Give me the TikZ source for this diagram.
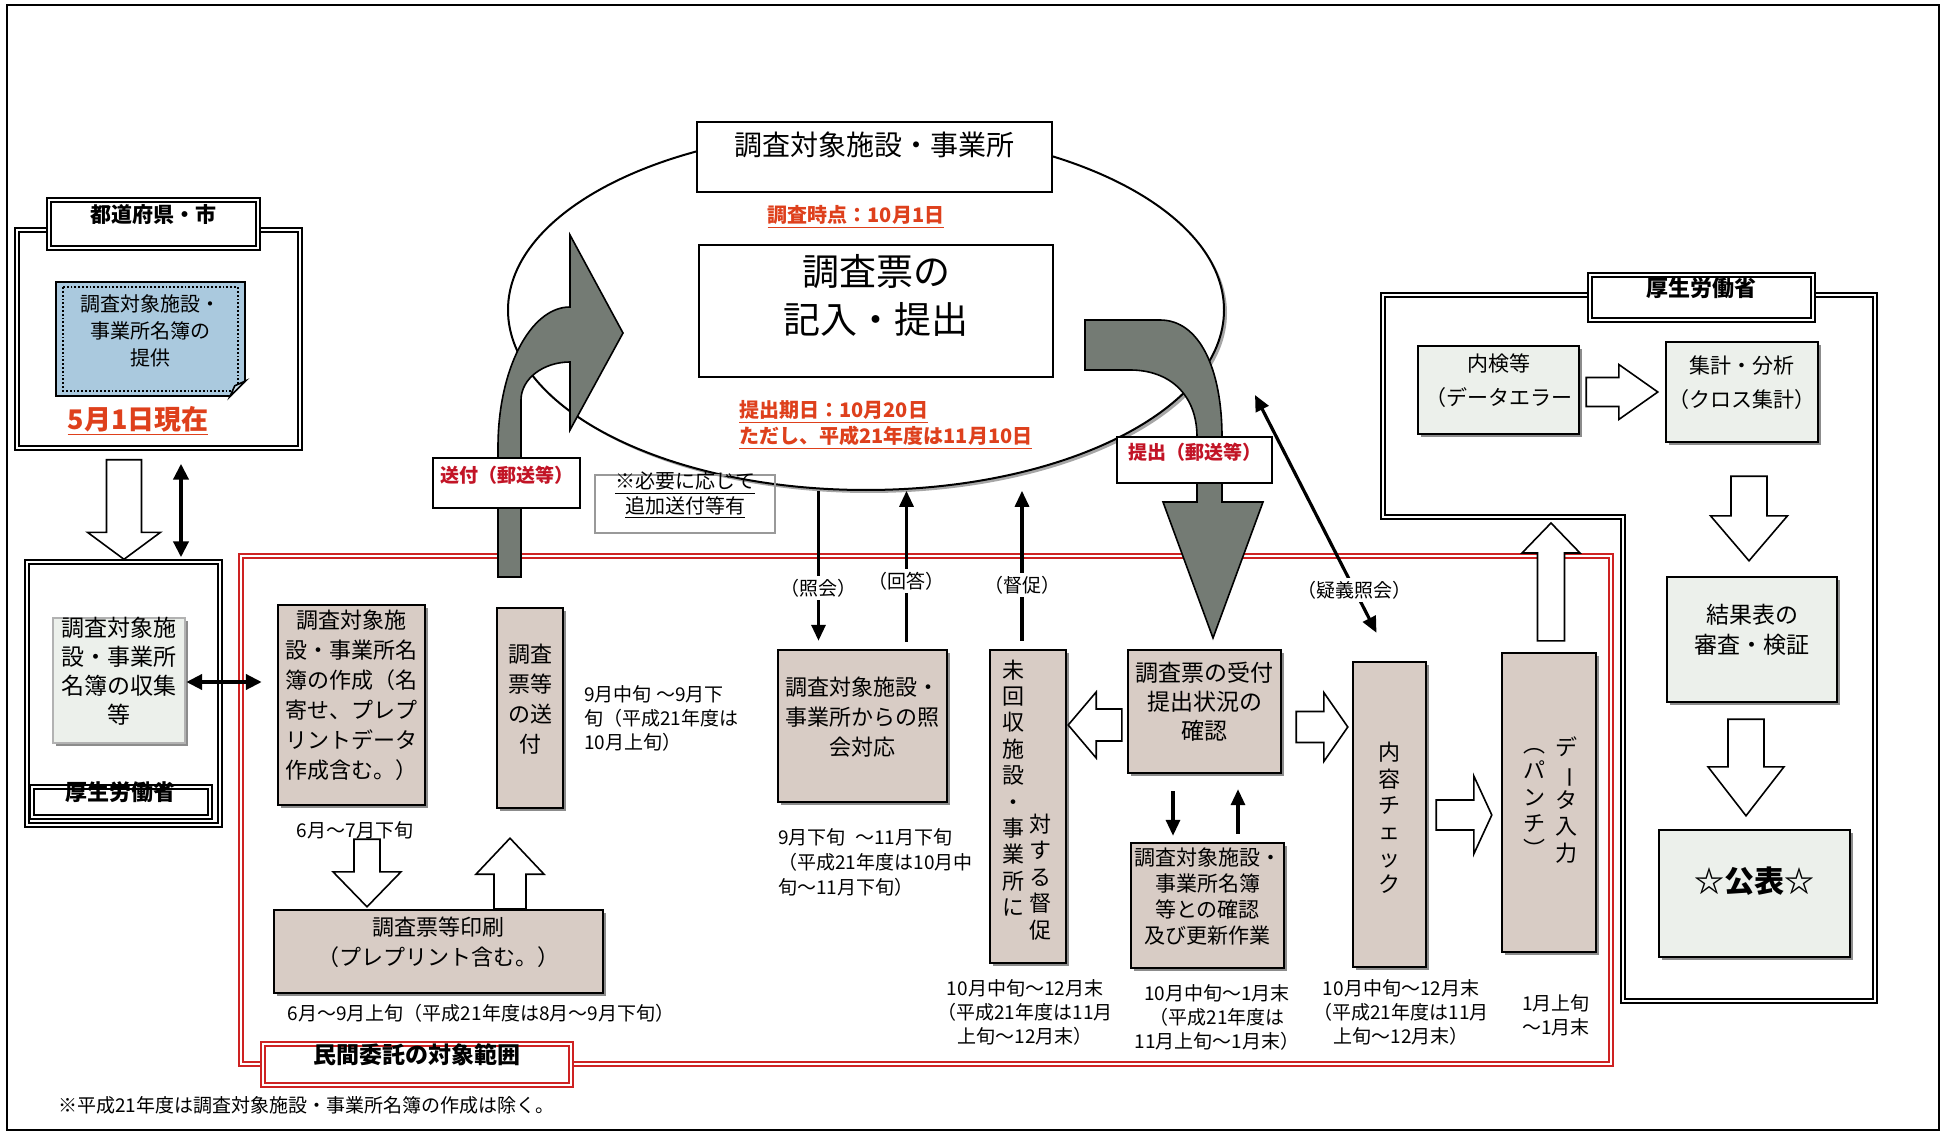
\documentclass[tikz,border=0pt]{standalone}
\usepackage{fontspec}
\usepackage{graphicx}
\setmainfont{Noto Sans CJK JP}
\usetikzlibrary{arrows.meta,calc,fit,shapes.geometric,shadows}

\definecolor{procfill}{RGB}{216,204,197}
\definecolor{mhlwfill}{RGB}{236,240,235}
\definecolor{notefill}{RGB}{170,201,222}
\definecolor{frred}{RGB}{206,34,34}
\definecolor{txtred}{RGB}{222,64,28}
\definecolor{lblred}{RGB}{194,20,38}
\definecolor{arrowgray}{RGB}{116,123,116}

\tikzset{
  dframe/.style={draw, double, double distance=1.4pt, line width=0.7pt, inner sep=0pt},
  redframe/.style={draw=frred, double, double distance=1.2pt, line width=0.8pt, inner sep=0pt},
  tabbox/.style={dframe, fill=white, font=\bfseries\fontsize{11}{13}\selectfont},
  procbox/.style={draw, line width=1.2pt, fill=procfill, inner sep=0pt, align=center,
    drop shadow={shadow xshift=1.6pt, shadow yshift=-1.6pt, fill=black, opacity=0.45},
    font=\fontsize{11}{15}\selectfont},
  mhlwbox/.style={procbox, fill=mhlwfill},
  vcol/.style={align=center, inner sep=0pt, font=\fontsize{11}{13.2}\selectfont},
  datetxt/.style={align=center, inner sep=0pt, font=\fontsize{9.5}{12}\selectfont},
  redtxt/.style={text=txtred, align=left, inner sep=0pt, font=\bfseries\fontsize{10}{13}\selectfont},
  postlbl/.style={draw, line width=0.8pt, fill=white, inner sep=0pt, text=lblred,
    font=\bfseries\fontsize{9.5}{12}\selectfont},
  lbl/.style={fill=white, inner sep=1.5pt, font=\fontsize{9.5}{12}\selectfont},
  hollow/.style args={#1/#2/#3}{draw, line width=0.8pt, fill=white, to path={
      ($(\tikztostart)!#1!-90:(\tikztotarget)$)
      -- ($($(\tikztotarget)!#3!(\tikztostart)$)!#1!-90:(\tikztotarget)$)
      -- ($($(\tikztotarget)!#3!(\tikztostart)$)!#2!-90:(\tikztotarget)$)
      -- (\tikztotarget)
      -- ($($(\tikztotarget)!#3!(\tikztostart)$)!#2!90:(\tikztotarget)$)
      -- ($($(\tikztotarget)!#3!(\tikztostart)$)!#1!90:(\tikztotarget)$)
      -- ($(\tikztostart)!#1!90:(\tikztotarget)$) -- cycle}},
  grayarrow/.style={fill=arrowgray, draw, line width=0.8pt},
  thinarrow/.style={line width=1.6pt, -{Triangle[length=8pt,width=7pt]}},
  dblarrow/.style={line width=2pt, {Triangle[length=8pt,width=7.5pt]}-{Triangle[length=8pt,width=7.5pt]}},
}

\begin{document}
\begin{tikzpicture}[x=0.5pt, y=-0.5pt]
\useasboundingbox (0,0) rectangle (1945,1134);
\draw[line width=1.2pt] (7,5) rectangle (1939,1130);

% survey targets
\node[ellipse, draw, line width=1pt, fill=white, minimum width=358pt, minimum height=180pt,
  drop shadow={shadow xshift=1.5pt, shadow yshift=-1.5pt, fill=black, opacity=0.35}] (ell) at (866,310) {};
\node[draw, line width=1.4pt, fill=white, inner sep=0pt, fit={(697,122) (1052,192)},
  font=\fontsize{14}{17}\selectfont] (target) {調査対象施設・事業所};
\node[redtxt] (asofday) at (856,217) {\underline{調査時点：10月1日}};
\node[draw, line width=1.4pt, fill=white, inner sep=0pt, align=center, fit={(699,245) (1053,377)},
  font=\fontsize{18.5}{24}\selectfont] (form) {調査票の\\記入・提出};
\node[redtxt, anchor=west] (due) at (739,425) {\underline{提出期日：10月20日}\\\underline{ただし、平成21年度は11月10日}};

% prefecture
\node[dframe, fit={(17,230) (300,448)}] (pref) {};
\node[tabbox, fit={(49,200) (258,248)}, font=\bfseries\fontsize{10.5}{13}\selectfont] (preftab) {都道府県・市};
\node[draw, line width=0.8pt, fill=notefill, inner sep=0pt, align=left, fit={(56,282) (245,396)},
  font=\fontsize{10}{13.5}\selectfont] (note) {調査対象施設・\\事業所名簿の\\提供};
\draw[densely dotted, line width=0.9pt] ($(note.north west)+(8,6)$) rectangle ($(note.south east)+(-8,-6)$);
\fill[white] ($(note.south east)+(3,3)$) -- ($(note.south east)+(3,-18)$) -- ($(note.south east)+(-18,3)$) -- cycle;
\draw[line width=0.8pt, fill=notefill!60!white] ($(note.south east)+(0,-16)$) -- ($(note.south east)+(-16,0)$) -- ($(note.south east)+(-11,-11)$) -- cycle;
\node[redtxt, font=\bfseries\fontsize{13.5}{16}\selectfont] (asof) at (138,421) {\underline{5月1日現在}};

% ministry, left
\node[dframe, fit={(27,562) (220,825)}] (mhlwL) {};
\node[tabbox, fit={(32,787) (210,817)}] (mhlwLtab) {厚生労働省};
\node[mhlwbox, draw=black!30, fit={(53,618) (185,743)}, font=\fontsize{11.5}{14.5}\selectfont] (collect) {調査対象施\\設・事業所\\名簿の収集\\等};
\draw[hollow=8.75pt/18.25pt/13.5pt] ($(pref.south)+(-34.5,11)$) to ($(mhlwL.north)+(0.5,-2)$);
\draw[dblarrow] ($(pref.south)+(22.5,15)$) -- ($(mhlwL.north)+(57.5,-4)$);

% outsourced part
\node[redframe, fit={(241,556) (1611,1064)}] (redarea) {};
\node[redframe, fill=white, fit={(263,1044) (571,1085)}, font=\bfseries\fontsize{11.5}{14}\selectfont] (redtab) {民間委託の対象範囲};

\node[procbox, align=left, fit={(278,605) (425,805)}] (list) {調査対象施\\設・事業所名\\簿の作成（名\\寄せ、プレプ\\リントデータ\\作成含む。）};
\node[procbox, fit={(497,608) (563,808)}] (send) {調査\\票等\\の送\\付};
\node[procbox, fit={(274,910) (603,993)}] (print) {調査票等印刷\\（プレプリント含む。）};
\node[procbox, fit={(778,650) (947,802)}] (inq) {調査対象施設・\\事業所からの照\\会対応};
\node[procbox, fit={(990,650) (1066,963)}] (remind) {};
\node[vcol] (remindA) at (1013,788) {未\\回\\収\\施\\設\\・\\事\\業\\所\\に};
\node[vcol] (remindB) at (1040,877) {対\\す\\る\\督\\促};
\node[procbox, fit={(1128,650) (1281,773)}, font=\fontsize{11.5}{14.5}\selectfont] (recv) {調査票の受付\\提出状況の\\確認};
\node[procbox, fit={(1131,843) (1284,968)}, font=\fontsize{10.5}{13}\selectfont] (verify) {調査対象施設・\\事業所名簿\\等との確認\\及び更新作業};
\node[procbox, fit={(1353,662) (1426,967)}] (check) {};
\node[vcol] (checkA) at (1389,818) {内\\容\\チ\\ェ\\ッ\\ク};
\node[procbox, fit={(1502,653) (1596,952)}] (punch) {};
\node[vcol] (punchA) at (1566,800) {デ\\\rotatebox[origin=c]{-90}{ー}\\タ\\入\\力};
\node[vcol] (punchB) at (1534,803) {︵\\パ\\ン\\チ\\︶};

\node[datetxt] (listdate) at (355,830) {6月～7月下旬};
\node[datetxt, align=left, anchor=west] (senddate) at (584,718) {9月中旬 ～9月下\\旬（平成21年度は\\10月上旬）};
\node[datetxt] (printdate) at (481,1013) {6月～9月上旬（平成21年度は8月～9月下旬）};
\node[datetxt, align=left, anchor=west, font=\fontsize{9.5}{12.5}\selectfont] (inqdate) at (778,862) {9月下旬\enspace～11月下旬\\（平成21年度は10月中\\旬～11月下旬）};
\node[datetxt] (reminddate) at (1025,1012) {10月中旬～12月末\\（平成21年度は11月\\上旬～12月末）};
\node[datetxt] (verifydate) at (1217,1017) {10月中旬～1月末\\（平成21年度は\\11月上旬～1月末）};
\node[datetxt] (checkdate) at (1401,1012) {10月中旬～12月末\\（平成21年度は11月\\上旬～12月末）};
\node[datetxt] (punchdate) at (1556,1015) {1月上旬\\～1月末};

\draw[hollow=6.5pt/17pt/17.5pt] ($(list.south)+(15.5,33)$) to ($(print.north)+(-71.5,-2)$);
\draw[hollow=8pt/17pt/18pt] ($(print.north)+(71.5,0)$) to ($(send.south)+(-20,29)$);
\draw[hollow=8pt/16.5pt/14pt] ($(recv.west)+(-5,13.5)$) to ($(remind.east)+(1,-81.5)$);
\draw[hollow=7.75pt/17.25pt/12pt] ($(recv.east)+(14,15.5)$) to ($(check.west)+(-4,-87.5)$);
\draw[hollow=7.5pt/19.5pt/9pt] ($(check.east)+(9,0.5)$) to ($(punch.west)+(-9,12.5)$);
\draw[dblarrow] ($(collect.east)+(0,1.5)$) -- ($(list.west)+(-15,-23)$);

% ministry, right
\draw[dframe] (1383,295) -- (1875,295) -- (1875,1001) -- (1623,1001) -- (1623,517) -- (1383,517) -- cycle;
\node[tabbox, fit={(1590,275) (1813,320)}] (mhlwRtab) {厚生労働省};
\node[mhlwbox, fit={(1418,346) (1579,434)}, font=\fontsize{10.5}{17}\selectfont] (edit) {内検等\\（データエラー};
\node[mhlwbox, fit={(1666,342) (1818,442)}, font=\fontsize{10.5}{17}\selectfont] (tally) {集計・分析\\（クロス集計）};
\node[mhlwbox, fit={(1667,577) (1837,702)}, font=\fontsize{11.5}{15}\selectfont] (review) {結果表の\\審査・検証};
\node[mhlwbox, fit={(1659,830) (1850,957)}, font=\bfseries\fontsize{15}{18}\selectfont] (publish) {☆公表☆};
\coordinate (mhlwRfoot) at (1551,523);
\draw[hollow=6.75pt/14.5pt/15pt] ($(punch.north)+(2,-11)$) to (mhlwRfoot);
\draw[hollow=7.25pt/13.75pt/19.5pt] ($(edit.east)+(6,2)$) to ($(tally.west)+(-7,0)$);
\draw[hollow=9pt/19.25pt/22.5pt] ($(tally.south)+(7,33)$) to ($(review.north)+(-3,-15)$);
\draw[hollow=9pt/19pt/24.5pt] ($(review.south)+(-6,16)$) to ($(publish.north)+(-8.5,-13)$);

% mailing
\draw[grayarrow] (498,577) -- (498,447) .. controls (498,370) and (530,307) .. (570,307) -- (570,235) -- (623,333) -- (570,430) -- (570,362) .. controls (543,362) and (521,379) .. (521,400) -- (521,577) -- cycle;
\draw[grayarrow] (1085,320) -- (1160,320) .. controls (1200,320) and (1222,370) .. (1222,437) -- (1222,502) -- (1263,502) -- (1213,638) -- (1163,502) -- (1197,502) -- (1197,437) .. controls (1197,395) and (1170,370) .. (1130,370) -- (1085,370) -- cycle;
\node[postlbl, fit={(433,458) (580,508)}] (sendlbl) {送付（郵送等）};
\node[postlbl, fit={(1117,437) (1272,483)}] (submitlbl) {提出（郵送等）};
\node[draw=black!40, line width=0.6pt, inner sep=0pt, align=left, fit={(595,475) (775,533)},
  font=\fontsize{10}{11}\selectfont] (extra) {\underline{※必要に応じて}\\\underline{追加送付等有}};

% queries
\draw[thinarrow] ($(inq.north)+(-44,-158)$) -- node[lbl, pos=0.65] (askl) {（照会）} ($(inq.north)+(-44,-8)$);
\draw[thinarrow] ($(inq.north)+(44,-7)$) -- node[lbl, pos=0.4] (ansl) {（回答）} ($(inq.north)+(44,-158)$);
\draw[thinarrow] ($(remind.north)+(-6,-8)$) -- node[lbl, pos=0.37] (urgel) {（督促）} ($(remind.north)+(-6,-158)$);
\draw[thinarrow] ($(recv.south)+(-31.5,17)$) -- ($(verify.north)+(-34.5,-6)$);
\draw[thinarrow] ($(verify.north)+(30.5,-8)$) -- ($(recv.south)+(33.5,15)$);
\coordinate (qend) at (1255,395);
\draw[thinarrow, {Triangle[length=8pt,width=7pt]}-{Triangle[length=8pt,width=7pt]}] ($(check.north)+(-13,-28)$) -- node[lbl, pos=0.18] (doubtl) {（疑義照会）} (qend);

\node[anchor=west, inner sep=0pt, font=\fontsize{9.5}{12}\selectfont] (foot) at (58,1105) {※平成21年度は調査対象施設・事業所名簿の作成は除く。};
\end{tikzpicture}
\end{document}
